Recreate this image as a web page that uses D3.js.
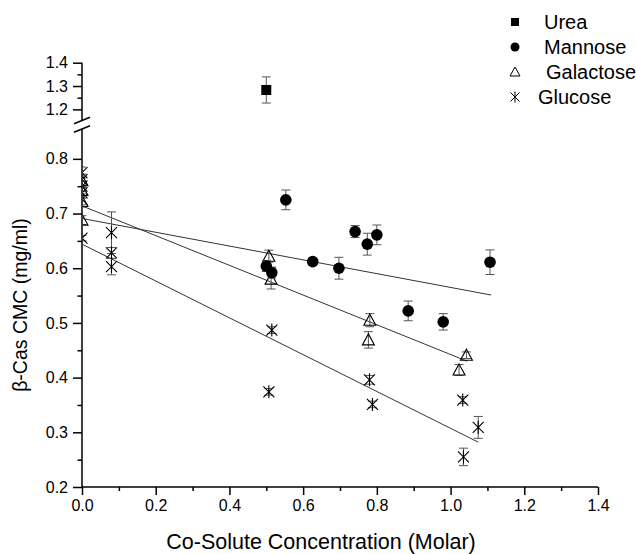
<!DOCTYPE html>
<html>
<head>
<meta charset="utf-8">
<script src="https://cdn.jsdelivr.net/npm/d3@7"></script>
<style>
  body { margin: 0; background: #fff; }
  svg { font-family: "Liberation Sans", Arial, sans-serif; }
  .tick text { font-size: 16px; fill: #000; }
  .tick line { stroke: #000; stroke-width: 1.5; }
</style>
</head>
<body>
<svg id="chart" width="636" height="554"></svg>
<script>
// values
const xMajorTicks = [0.0, 0.2, 0.4, 0.6, 0.8, 1.0, 1.2, 1.4];
const xMinorTicks = [0.1, 0.3, 0.5, 0.7, 0.9, 1.1, 1.3];
const yLowMajorTicks = [0.2, 0.3, 0.4, 0.5, 0.6, 0.7, 0.8];
const yLowMinorTicks = [0.25, 0.35, 0.45, 0.55, 0.65, 0.75];
const yUpMajorTicks = [1.2, 1.3, 1.4];
const yUpMinorTicks = [1.25, 1.35];

const ureaX = [0.50];
const ureaY = [1.283];
const ureaErr = [0.056];

const mannoseX = [0.50, 0.515, 0.553, 0.626, 0.697, 0.741, 0.774, 0.80, 0.885, 0.98, 1.107];
const mannoseY = [0.604, 0.592, 0.725, 0.612, 0.600, 0.667, 0.644, 0.661, 0.522, 0.502, 0.611];
const mannoseErr = [0.01, 0.01, 0.018, 0.004, 0.02, 0.011, 0.02, 0.018, 0.018, 0.015, 0.0225];

const galactoseX = [0, 0, 0, 0, 0.507, 0.513, 0.781, 0.777, 1.043, 1.023];
const galactoseY = [0.76, 0.742, 0.722, 0.688, 0.622, 0.58, 0.505, 0.469, 0.441, 0.414];
const galactoseErr = [0.01, 0.01, 0.01, 0.008, 0.011, 0.018, 0.012, 0.015, 0.006, 0.01];

const glucoseX = [0, 0, 0, 0, 0, 0, 0.08, 0.08, 0.08, 0.515, 0.507, 0.78, 0.788, 1.033, 1.075, 1.035];
const glucoseY = [0.775, 0.762, 0.75, 0.738, 0.726, 0.655, 0.665, 0.628, 0.603, 0.487, 0.374, 0.396, 0.351, 0.359, 0.309, 0.255];
const glucoseErr = [0.01, 0.01, 0.01, 0.01, 0.01, 0.005, 0.038, 0.01, 0.015, 0.006, 0.006, 0.008, 0.006, 0.006, 0.02, 0.016];

// linear fits
const fitNames = ["Mannose", "Galactose", "Glucose"];
const fitStartY = [0.691, 0.714, 0.644];
const fitEndX = [1.11, 1.045, 1.075];
const fitEndY = [0.551, 0.43, 0.282];

const legendNames = ["Urea", "Mannose", "Galactose", "Glucose"];

const svg = d3.select("#chart");

const x = d3.scaleLinear().domain([0, 1.4]).range([82, 598]);
const yLow = d3.scaleLinear().domain([0.2, 0.85]).range([487, 131.5]);
const yUp = d3.scaleLinear().domain([1.15, 1.4]).range([121, 62.7]);
const y = v => v >= 1.0 ? yUp(v) : yLow(v);

// axes
const fmt = d3.format(".1f");
svg.append("g").attr("transform", `translate(0,${yLow(0.2)})`)
    .call(d3.axisBottom(x).tickValues(xMajorTicks).tickFormat(fmt).tickSize(8).tickPadding(5));
svg.append("g").attr("transform", `translate(0,${yLow(0.2)})`)
    .call(d3.axisBottom(x).tickValues(xMinorTicks).tickFormat("").tickSize(4));

svg.append("g").attr("transform", `translate(${x(0)},0)`)
    .call(d3.axisLeft(yLow).tickValues(yLowMajorTicks).tickFormat(fmt).tickSize(9).tickPadding(5));
svg.append("g").attr("transform", `translate(${x(0)},0)`)
    .call(d3.axisLeft(yLow).tickValues(yLowMinorTicks).tickFormat("").tickSize(4.5));
svg.append("g").attr("transform", `translate(${x(0)},0)`)
    .call(d3.axisLeft(yUp).tickValues(yUpMajorTicks).tickFormat(fmt).tickSize(9).tickPadding(5));
svg.append("g").attr("transform", `translate(${x(0)},0)`)
    .call(d3.axisLeft(yUp).tickValues(yUpMinorTicks).tickFormat("").tickSize(4.5));
svg.selectAll(".domain").remove();

// axis lines
svg.append("line").attr("x1", x(0)).attr("x2", x(1.4)).attr("y1", yLow(0.2)).attr("y2", yLow(0.2))
    .attr("stroke", "#000").attr("stroke-width", 1.5);
svg.append("line").attr("x1", x(0)).attr("x2", x(0)).attr("y1", yLow(0.2) + 0.75).attr("y2", 129)
    .attr("stroke", "#000").attr("stroke-width", 1.5);
svg.append("line").attr("x1", x(0)).attr("x2", x(0)).attr("y1", 120.5).attr("y2", yUp(1.4))
    .attr("stroke", "#000").attr("stroke-width", 1.5);
// break marks
[120.5, 129].forEach(by => {
  svg.append("line").attr("x1", x(0) - 8).attr("y1", by + 3.2).attr("x2", x(0) + 8).attr("y2", by - 3.2)
      .attr("stroke", "#000").attr("stroke-width", 1.5);
});

// axis titles
svg.append("text").attr("x", 321).attr("y", 549).attr("text-anchor", "middle")
    .attr("font-size", 21.5).text("Co-Solute Concentration (Molar)");
svg.append("text").attr("transform", "translate(27,305) rotate(-90)").attr("text-anchor", "middle")
    .attr("font-size", 19.5).text("β-Cas CMC (mg/ml)");

// plot area
svg.append("clipPath").attr("id", "plotclip")
  .append("rect").attr("x", x(0) + 0.75).attr("y", 0).attr("width", x(1.4) - x(0) + 20).attr("height", yLow(0.2));
const plot = svg.append("g").attr("clip-path", "url(#plotclip)");

// fit lines
fitNames.forEach((n, i) => {
  plot.append("line")
      .attr("x1", x(0)).attr("y1", y(fitStartY[i]))
      .attr("x2", x(fitEndX[i])).attr("y2", y(fitEndY[i]))
      .attr("stroke", "#333").attr("stroke-width", 1);
});

function zip(xs, ys, es) {
  return xs.map((v, i) => ({ x: v, y: ys[i], e: es[i] }));
}

function drawErrors(data) {
  const g = plot.append("g").attr("stroke", "#555").attr("stroke-width", 1);
  data.forEach(d => {
    const cx = x(d.x), top = y(d.y + d.e), bot = y(d.y - d.e);
    g.append("line").attr("x1", cx).attr("x2", cx).attr("y1", top).attr("y2", bot);
    g.append("line").attr("x1", cx - 4.5).attr("x2", cx + 4.5).attr("y1", top).attr("y2", top);
    g.append("line").attr("x1", cx - 4.5).attr("x2", cx + 4.5).attr("y1", bot).attr("y2", bot);
  });
}

const markers = {
  Urea: (g) => g.append("rect").attr("x", -5).attr("y", -5).attr("width", 10).attr("height", 10).attr("fill", "#000"),
  Mannose: (g) => g.append("circle").attr("r", 5.8).attr("fill", "#000"),
  Galactose: (g) => g.append("path").attr("d", "M0,-6L6,5L-6,5Z").attr("fill", "none")
      .attr("stroke", "#000").attr("stroke-width", 1.1),
  Glucose: (g) => g.append("path").attr("d", "M0,-6.5V6.5M-5.5,-5.5L5.5,5.5M-5.5,5.5L5.5,-5.5")
      .attr("stroke", "#000").attr("stroke-width", 1.1)
};

function drawSeries(name, data) {
  drawErrors(data);
  plot.append("g").selectAll("g").data(data).join("g")
      .attr("transform", d => `translate(${x(d.x)},${y(d.y)})`)
      .each(function () { markers[name](d3.select(this)); });
}

drawSeries("Glucose", zip(glucoseX, glucoseY, glucoseErr));
drawSeries("Galactose", zip(galactoseX, galactoseY, galactoseErr));
drawSeries("Mannose", zip(mannoseX, mannoseY, mannoseErr));
drawSeries("Urea", zip(ureaX, ureaY, ureaErr));

// legend
const legendY = [22, 47, 72, 97];
const legendTextX = [544, 544, 546, 538];
legendNames.forEach((n, i) => {
  const g = svg.append("g").attr("transform", `translate(515,${legendY[i]})`);
  if (n === "Urea") g.append("rect").attr("x", -4).attr("y", -4).attr("width", 8).attr("height", 8).attr("fill", "#000");
  else if (n === "Mannose") g.append("circle").attr("r", 4.5).attr("fill", "#000");
  else if (n === "Galactose") g.append("path").attr("d", "M0,-5L5,4L-5,4Z").attr("fill", "none").attr("stroke", "#000").attr("stroke-width", 1);
  else g.append("path").attr("d", "M0,-5.5V5.5M-4.5,-4.5L4.5,4.5M-4.5,4.5L4.5,-4.5").attr("stroke", "#000").attr("stroke-width", 1);
  svg.append("text").attr("x", legendTextX[i]).attr("y", legendY[i]).attr("dy", "0.35em")
      .attr("font-size", 20).text(n);
});
</script>
</body>
</html>
